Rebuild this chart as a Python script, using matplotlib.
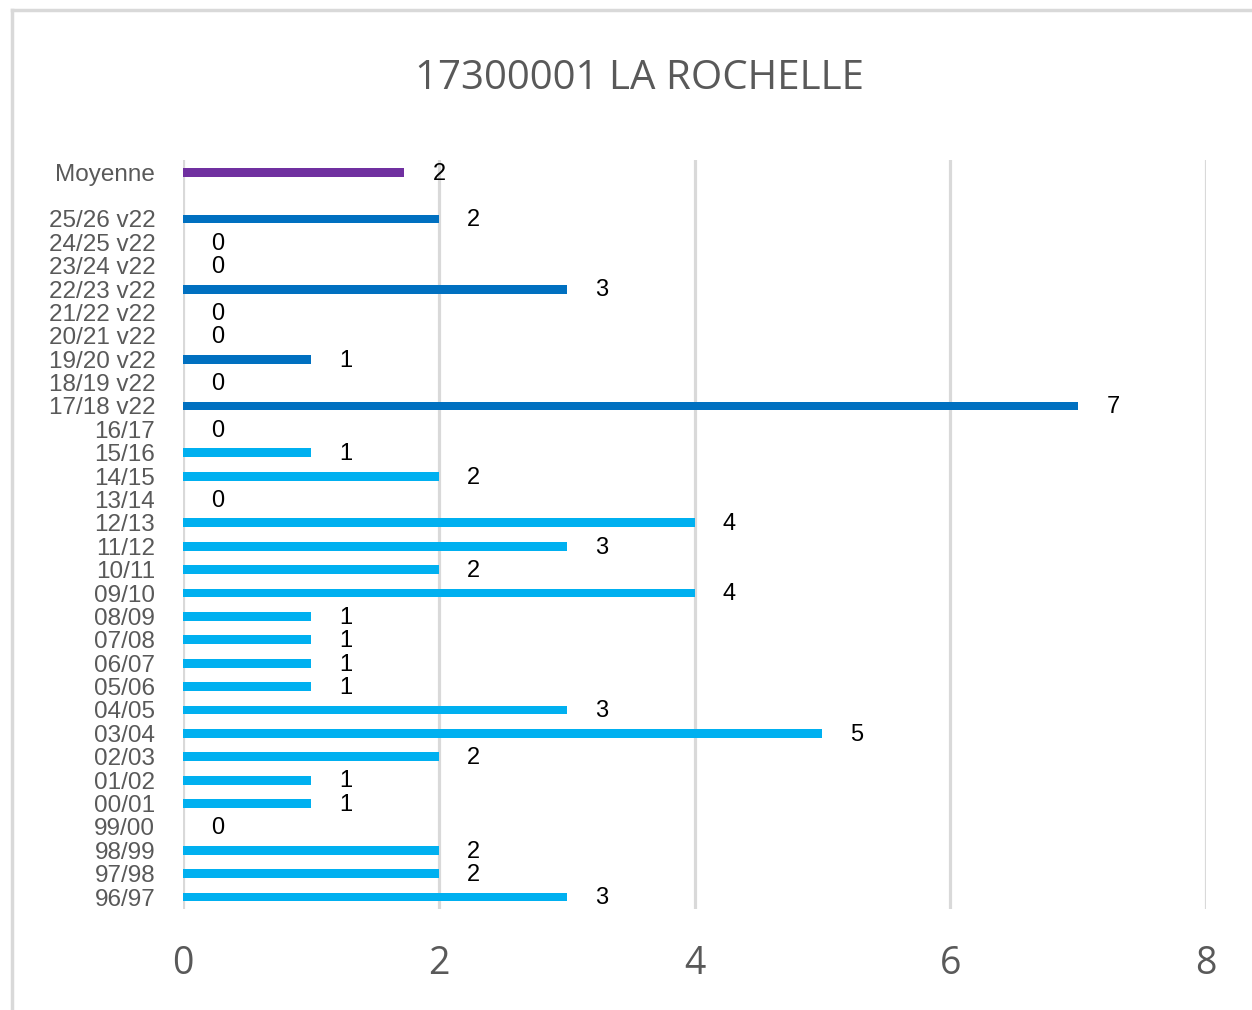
import matplotlib
matplotlib.use("Agg")
from matplotlib import pyplot as plt
from matplotlib.lines import Line2D

plt.rcParams['font.family'] = ['Liberation Sans', 'DejaVu Sans']

# saisons, de bas en haut
seasons = ["96/97", "97/98", "98/99", "99/00", "00/01", "01/02", "02/03", "03/04",
           "04/05", "05/06", "06/07", "07/08", "08/09", "09/10", "10/11", "11/12",
           "12/13", "13/14", "14/15", "15/16", "16/17",
           "17/18 v22", "18/19 v22", "19/20 v22", "20/21 v22", "21/22 v22",
           "22/23 v22", "23/24 v22", "24/25 v22", "25/26 v22"]
values = [3, 2, 2, 0, 1, 1, 2, 5, 3, 1, 1, 1, 1, 4, 2, 3, 4, 0, 2, 1, 0,
          7, 0, 1, 0, 0, 3, 0, 0, 2]
mean_label = "Moyenne"
mean_value = 1.73
xticks = [0, 2, 4, 6, 8]

light = "#00B0F0"
dark = "#0070C0"
purple = "#7030A0"
grid_c = "#D9D9D9"
text_c = "#595959"

colors = [dark if "v22" in s else light for s in seasons]

fig = plt.figure(figsize=(12.52, 10.10), dpi=100)
ax = fig.add_axes([0.1462, 0.1003, 0.8171, 0.7408])

ypos = list(range(len(seasons)))
mean_pos = len(seasons) + 1
ax.barh(ypos, values, height=0.38, color=colors, zorder=3)
ax.barh([mean_pos], [mean_value], height=0.38, color=purple, zorder=3)

for y, v in zip(ypos, values):
    ax.annotate(str(v), (v, y), xytext=(25, -1), textcoords="offset points",
                ha="center", va="center", fontsize=17, color="black")
ax.annotate(str(round(mean_value)), (mean_value, mean_pos), xytext=(25, -1),
            textcoords="offset points", ha="center", va="center", fontsize=17, color="black")

ax.set_xlim(0, 8)
ax.set_ylim(-0.5, len(seasons) + 1.5)
ax.set_xticks(xticks)
ax.set_xticklabels([str(t) for t in xticks], family=['Open Sans', 'DejaVu Sans'],
                   fontsize=27, color=text_c)
ax.set_yticks(ypos + [mean_pos])
ax.set_yticklabels(seasons + [mean_label], fontsize=17.5, color=text_c)
ax.tick_params(axis="x", length=0, pad=26)
ax.tick_params(axis="y", length=0, pad=20)
ax.grid(axis="x", color=grid_c, linewidth=2.3, zorder=0)
for sp in ax.spines.values():
    sp.set_visible(False)

fig.text(0.511, 0.922, "17300001 LA ROCHELLE", ha="center", va="center",
         fontsize=29, color=text_c, family=['Open Sans', 'DejaVu Sans'])

fig.add_artist(Line2D([12 / 1252, 12 / 1252], [0, 1 - 10 / 1010], color=grid_c, linewidth=2.5))
fig.add_artist(Line2D([12 / 1252, 1], [1 - 10 / 1010, 1 - 10 / 1010], color=grid_c, linewidth=2.5))

fig.savefig("out.png", dpi=100)
